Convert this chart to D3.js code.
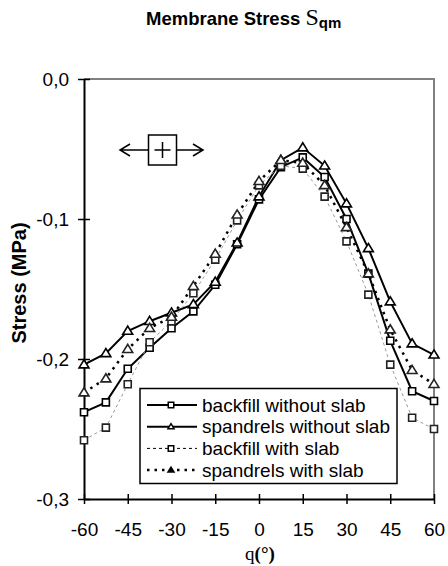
<!DOCTYPE html>
<html>
<head>
<meta charset="utf-8">
<script src="https://cdn.jsdelivr.net/npm/d3@7"></script>
<style>
  body { margin: 0; background: #fff; }
  text { font-family: "Liberation Sans", Arial, sans-serif; fill: #000; }
  .axis text { font-size: 19px; }
  .serif { font-family: "Liberation Serif", "Times New Roman", serif; }
</style>
</head>
<body>
<div id="canvas"></div>
<script>
// angle positions (degrees) and stress values (MPa)
const angles = [-60, -52.5, -45, -37.5, -30, -22.5, -15, -7.5, 0, 7.5, 15, 22.5, 30, 37.5, 45, 52.5, 60];
const backfillNoSlab = [-0.238, -0.231, -0.207, -0.192, -0.178, -0.166, -0.147, -0.118, -0.086, -0.063, -0.056, -0.070, -0.100, -0.139, -0.187, -0.223, -0.230];
const spandrelsNoSlab = [-0.204, -0.196, -0.180, -0.173, -0.167, -0.161, -0.145, -0.117, -0.084, -0.058, -0.049, -0.062, -0.089, -0.121, -0.159, -0.189, -0.197];
const backfillSlab = [-0.258, -0.249, -0.218, -0.188, -0.173, -0.153, -0.129, -0.101, -0.076, -0.062, -0.064, -0.084, -0.116, -0.154, -0.204, -0.242, -0.250];
const spandrelsSlab = [-0.224, -0.214, -0.193, -0.178, -0.170, -0.148, -0.125, -0.097, -0.073, -0.058, -0.060, -0.076, -0.106, -0.139, -0.179, -0.208, -0.218];

const seriesNames = ["backfill without slab", "spandrels without slab", "backfill with slab", "spandrels with slab"];

const xTicks = [-60, -45, -30, -15, 0, 15, 30, 45, 60];
const yTicks = [0, -0.1, -0.2, -0.3];
const yTickLabels = ["0,0", "-0,1", "-0,2", "-0,3"];

const w = 448;
const h = 566;
const margin = { top: 79, bottom: 67, left: 84, right: 14 };

const width = w - (margin.left + margin.right);
const height = h - (margin.top + margin.bottom);

const svg = d3.select("#canvas")
  .append("svg")
  .attr("width", w)
  .attr("height", h);

const x = d3.scaleLinear().domain([-60, 60]).range([0, width]);
const y = d3.scaleLinear().domain([-0.3, 0]).range([height, 0]);

// styles per series
const styles = [
  { values: backfillNoSlab, stroke: "#000", width: 2, dash: null, marker: "square", mstroke: "#000" },
  { values: spandrelsNoSlab, stroke: "#000", width: 2, dash: null, marker: "triangle", mstroke: "#000" },
  { values: backfillSlab, stroke: "#999", width: 1, dash: "3,3", marker: "square", mstroke: "#222" },
  { values: spandrelsSlab, stroke: "#000", width: 2.5, dash: "2.5,5", marker: "triangle", mstroke: "#222" }
];

function title() {
  const t = svg.append("text")
    .attr("x", 146)
    .attr("y", 25)
    .style("font-weight", "bold")
    .style("font-size", "18.5px");
  t.append("tspan").text("Membrane Stress ");
  t.append("tspan").attr("class", "serif")
    .style("font-weight", "normal")
    .style("font-size", "24px")
    .text("S");
  t.append("tspan")
    .attr("dy", 3)
    .style("font-size", "15px")
    .text("qm");
}

function markerPath(type, s) {
  if (type === "square") {
    return "M" + (-s / 2) + "," + (-s / 2) + "h" + s + "v" + s + "h" + (-s) + "Z";
  }
  const hh = s * 0.9;
  return "M0," + (-hh * 0.6) + "L" + (s * 0.55) + "," + (hh * 0.4) + "L" + (-s * 0.55) + "," + (hh * 0.4) + "Z";
}

function render() {
  const chart = svg.append("g")
    .attr("transform", "translate(" + margin.left + "," + margin.top + ")");

  // gray frame top and right
  chart.append("path")
    .attr("d", "M0,0H" + width + "V" + height)
    .attr("fill", "none")
    .attr("stroke", "#808080")
    .attr("stroke-width", 2);

  // direction symbol
  const sym = chart.append("g")
    .attr("fill", "none")
    .attr("stroke", "#000")
    .attr("stroke-width", 1.5);
  sym.append("rect").attr("x", 64.5).attr("y", 56).attr("width", 28).attr("height", 30);
  sym.append("path").attr("d", "M70.5,71h16M78.5,63v16");
  sym.append("path").attr("d", "M64.5,71H36M46,65L36,71L46,77");
  sym.append("path").attr("d", "M92.5,71H119M109,65L119,71L109,77");

  const xAxis = d3.axisBottom(x)
    .tickValues(xTicks)
    .tickFormat(d => d)
    .tickSizeInner(5)
    .tickSizeOuter(0)
    .tickPadding(19);

  const yAxis = d3.axisLeft(y)
    .tickValues(yTicks)
    .tickFormat((d, i) => yTickLabels[i])
    .tickSizeInner(6)
    .tickSizeOuter(0)
    .tickPadding(9);

  const gx = chart.append("g")
    .attr("class", "axis")
    .attr("transform", "translate(0," + height + ")")
    .call(xAxis);
  gx.selectAll(".tick line").attr("y1", -5).attr("stroke-width", 1.5);
  gx.select(".domain").attr("stroke-width", 2);
  gx.selectAll(".tick text").text(d => String(d).replace("\u2212", "-"));

  const gy = chart.append("g")
    .attr("class", "axis")
    .call(yAxis);
  gy.selectAll(".tick line").attr("x1", 6).attr("stroke-width", 1.5);
  gy.select(".domain").attr("stroke-width", 2);
  gy.selectAll(".tick text").attr("x", -15);

  const line = d3.line()
    .x((d, i) => x(angles[i]))
    .y(d => y(d));

  styles.forEach(function(s) {
    chart.append("path")
      .datum(s.values)
      .attr("d", line)
      .attr("fill", "none")
      .attr("stroke", s.stroke)
      .attr("stroke-width", s.width)
      .attr("stroke-dasharray", s.dash);
  });

  styles.forEach(function(s) {
    chart.selectAll(null)
      .data(s.values)
      .enter()
      .append("path")
      .attr("transform", (d, i) => "translate(" + x(angles[i]) + "," + y(d) + ")")
      .attr("d", markerPath(s.marker, s.marker === "square" ? 7 : 9))
      .attr("fill", "#fff")
      .attr("stroke", s.mstroke)
      .attr("stroke-width", 1.6);
  });

  // legend
  const legend = svg.append("g").attr("transform", "translate(140,388.5)");
  legend.append("rect")
    .attr("width", 257)
    .attr("height", 95)
    .attr("fill", "#fff")
    .attr("stroke", "#000")
    .attr("stroke-width", 1.5);

  seriesNames.forEach(function(name, i) {
    const s = styles[i];
    const ry = 16.5 + i * 21.7;
    legend.append("line")
      .attr("x1", 7).attr("x2", 57)
      .attr("y1", ry).attr("y2", ry)
      .attr("stroke", i === 2 ? "#000" : s.stroke)
      .attr("stroke-width", i === 2 ? 1 : s.width)
      .attr("stroke-dasharray", s.dash);
    legend.append("path")
      .attr("transform", "translate(31," + ry + ")")
      .attr("d", markerPath(s.marker, 5.5))
      .attr("fill", i === 3 ? "#000" : "#fff")
      .attr("stroke", "#000")
      .attr("stroke-width", 1.5);
    legend.append("text")
      .attr("x", 62)
      .attr("y", ry)
      .attr("dy", "0.35em")
      .style("font-size", "19px")
      .text(name);
  });

  // axis titles
  svg.append("text")
    .attr("transform", "translate(26,283) rotate(-90)")
    .attr("text-anchor", "middle")
    .style("font-weight", "bold")
    .style("font-size", "20px")
    .text("Stress (MPa)");

  const xt = svg.append("text")
    .attr("x", 260)
    .attr("y", 560)
    .attr("text-anchor", "middle")
    .attr("class", "serif")
    .style("font-size", "19px")
    .style("font-weight", "bold");
  xt.append("tspan").style("font-weight", "normal").text("q");
  xt.append("tspan").text("(°)");
}

title();
render();
</script>
</body>
</html>
